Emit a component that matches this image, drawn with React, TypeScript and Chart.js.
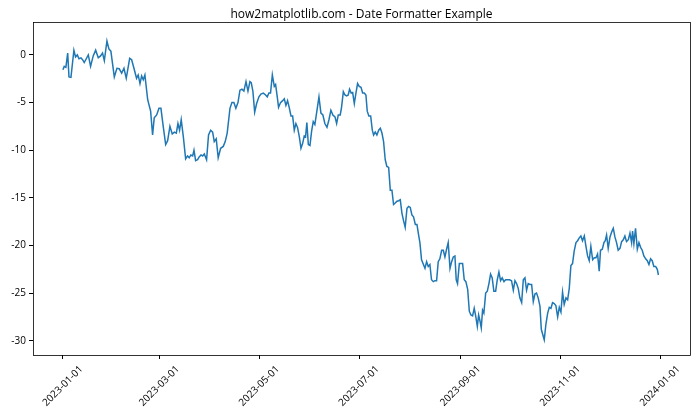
import React, { useEffect, useRef } from "react";
import Chart from "chart.js/auto";

const TITLE = "how2matplotlib.com - Date Formatter Example";

// day index from 2023-01-01
const tickDays = [0, 59, 120, 181, 243, 304, 365];
const tickLabels = ["2023-01-01", "2023-03-01", "2023-05-01", "2023-07-01", "2023-09-01", "2023-11-01", "2024-01-01"];
const yTicks = [-30, -25, -20, -15, -10, -5, 0];

const days = [
  0, 0.8, 1.8, 2.9, 3.7, 4.9, 6.7, 7.7, 8.8, 9.8, 11.0, 12.0, 13.0, 14.1, 15.5, 16.9, 18.5, 20.0, 21.6, 23.0,
  24.2, 25.3, 26.9, 28.1, 29.3, 31.4, 33.0, 34.4, 35.9, 37.3, 38.7, 40.8, 42.0, 43.4, 45.0, 46.0, 47.1, 48.1, 49.1, 50.1,
  51.8, 53.6, 54.8, 55.8, 57.3, 58.7, 59.9, 61.3, 62.8, 64.0, 65.4, 66.8, 68.1, 69.3, 70.3, 71.3, 72.3, 73.6, 75.0, 76.2,
  77.2, 78.2, 79.3, 80.1, 81.1, 82.3, 83.3, 84.4, 85.4, 86.4, 87.8, 89.0, 90.3, 91.5, 92.5, 93.7, 94.9, 96.4, 98.0, 99.2,
  100.4, 102.1, 103.3, 104.5, 105.7, 107.0, 108.2, 109.4, 110.6, 111.9, 113.1, 114.3, 115.1, 116.1, 117.2, 118.4, 119.8, 121.0, 122.5, 123.9,
  124.9, 125.9, 126.9, 128.0, 129.2, 130.0, 131.0, 131.8, 133.0, 134.3, 135.3, 136.3, 137.3, 138.3, 139.4, 140.4, 141.4, 142.4, 143.4, 144.5,
  145.5, 146.5, 147.5, 148.3, 149.1, 150.0, 151.0, 152.0, 153.0, 154.0, 155.3, 156.5, 157.7, 158.9, 160.1, 161.4, 162.6, 163.8, 165.0, 166.3,
  167.3, 168.3, 169.5, 170.3, 171.4, 172.4, 173.4, 174.4, 175.2, 176.2, 177.1, 178.1, 179.1, 180.1, 181.1, 182.2, 183.2, 184.2, 185.2, 186.0,
  187.0, 188.1, 189.1, 189.9, 190.9, 191.9, 193.0, 194.0, 195.0, 196.0, 197.0, 198.0, 199.1, 200.1, 201.1, 202.1, 203.1, 204.2, 205.2, 206.2,
  207.2, 208.2, 209.2, 210.3, 211.3, 212.3, 213.3, 214.3, 215.4, 216.4, 217.4, 218.2, 219.2, 221.3, 222.3, 223.3, 224.3, 225.3, 226.4, 227.4,
  228.4, 229.4, 230.4, 231.5, 232.5, 233.5, 234.5, 235.5, 236.6, 237.6, 238.6, 239.6, 240.4, 241.2, 242.3, 243.3, 244.3, 245.3, 246.3, 247.4,
  248.4, 249.4, 250.4, 251.4, 252.4, 253.3, 254.1, 254.9, 255.7, 256.5, 257.3, 258.4, 259.4, 260.4, 261.4, 262.4, 263.4, 264.5, 265.5, 266.5,
  267.5, 268.5, 269.6, 270.6, 271.8, 273.0, 274.2, 275.3, 276.3, 277.3, 278.3, 279.3, 280.4, 281.4, 282.4, 283.4, 284.4, 285.5, 286.5, 287.5,
  288.5, 289.5, 290.5, 291.6, 292.4, 293.2, 294.2, 295.2, 296.3, 297.3, 298.3, 299.3, 300.3, 301.3, 302.4, 303.4, 304.4, 305.4, 306.4, 307.5,
  308.5, 309.5, 310.5, 311.5, 312.5, 313.6, 314.6, 315.6, 316.6, 317.6, 318.7, 319.7, 320.7, 321.7, 322.7, 323.8, 324.8, 325.8, 326.8, 327.8,
  328.6, 329.7, 330.7, 331.5, 332.3, 333.3, 334.4, 335.4, 336.4, 337.4, 338.4, 339.4, 340.5, 341.5, 342.5, 343.5, 344.5, 345.6, 346.6, 347.6,
  348.2, 349.0, 350.0, 351.1, 352.1, 353.1, 354.1, 355.1, 356.2, 357.2, 358.2, 359.2, 360.2, 361.2, 362.3, 363.3, 364.0,
];

const values = [
  -1.55, -1.2, -1.3, 0.2, -2.3, -2.35, 0.5, -0.2, 0.0, -0.4, -0.3, -0.5, -0.8, -0.45, 0.0, -1.2, -0.1, 0.5, -0.3, -0.1,
  0.2, -0.6, 1.47, 0.63, 0.4, -2.3, -1.4, -1.45, -1.9, -1.4, -2.45, -0.35, -0.5, -1.4, -2.45, -2.1, -3.0, -2.2, -2.6, -2.1,
  -4.7, -5.9, -8.4, -6.6, -6.3, -5.6, -5.6, -7.5, -9.4, -9.0, -7.5, -8.3, -8.1, -8.2, -7.2, -7.9, -6.8, -8.6, -10.9, -10.6,
  -10.8, -10.5, -10.6, -10.0, -11.1, -11.0, -10.7, -10.5, -10.6, -10.4, -11.0, -8.4, -7.9, -8.1, -9.1, -8.8, -10.8, -9.8, -9.6, -9.1,
  -8.2, -5.6, -5.0, -5.0, -5.6, -5.0, -3.7, -3.6, -3.8, -2.8, -3.8, -2.8, -2.9, -3.8, -6.0, -5.1, -4.4, -4.1, -4.0, -4.2,
  -4.4, -4.0, -4.0, -2.1, -3.3, -3.1, -4.4, -5.5, -5.0, -4.8, -4.6, -5.3, -4.8, -5.5, -6.4, -6.4, -7.9, -7.2, -7.6, -8.6,
  -9.8, -9.3, -8.5, -8.6, -7.1, -9.4, -9.5, -8.0, -7.0, -7.3, -5.8, -4.4, -6.1, -6.3, -7.2, -7.6, -6.8, -5.8, -6.3, -6.5,
  -7.2, -6.3, -6.3, -5.5, -3.85, -4.2, -4.3, -4.2, -3.6, -4.0, -3.95, -5.1, -4.0, -3.0, -3.3, -3.4, -4.0, -4.0, -4.2, -5.9,
  -6.4, -6.4, -7.9, -8.4, -8.1, -8.4, -7.9, -7.7, -8.2, -9.1, -11.0, -11.7, -11.8, -14.2, -14.2, -15.7, -15.55, -15.35, -15.3, -15.2,
  -16.6, -17.4, -18.1, -16.1, -15.9, -16.0, -16.8, -17.0, -17.8, -17.8, -18.9, -19.7, -21.5, -22.4, -21.7, -22.2, -22.0, -23.6, -23.8, -23.7,
  -23.7, -21.7, -21.4, -20.5, -20.5, -21.2, -20.4, -19.7, -22.4, -21.7, -21.2, -21.1, -23.6, -24.0, -21.9, -21.9, -21.9, -23.6, -23.8, -24.6,
  -26.9, -27.3, -27.4, -26.6, -27.5, -28.5, -27.3, -27.9, -28.65, -26.8, -27.1, -25.0, -24.8, -24.0, -23.0, -23.4, -24.8, -24.8, -23.6, -22.8,
  -23.7, -23.4, -23.8, -23.6, -23.6, -23.6, -23.7, -24.7, -23.7, -24.0, -24.5, -25.5, -26.0, -23.6, -23.4, -24.7, -24.0, -24.1, -24.1, -25.9,
  -25.1, -25.0, -25.5, -26.4, -28.8, -29.3, -29.9, -28.3, -27.1, -26.5, -26.6, -26.0, -26.1, -26.3, -27.5, -26.5, -27.0, -24.9, -26.2, -25.5,
  -25.7, -24.5, -22.1, -21.9, -20.6, -19.7, -19.5, -19.2, -19.0, -19.5, -19.0, -20.1, -21.1, -21.6, -20.1, -21.5, -21.3, -21.3, -20.9, -22.7,
  -20.5, -20.4, -19.7, -19.5, -18.9, -20.3, -19.1, -18.6, -18.2, -19.1, -19.7, -20.5, -20.3, -19.6, -19.4, -19.0, -19.6, -19.4, -18.7, -19.7,
  -18.5, -19.8, -18.2, -20.4, -19.7, -20.2, -20.5, -21.1, -21.4, -21.6, -22.0, -21.4, -21.6, -22.2, -22.2, -22.5, -23.1,
];

const FONT = "'Open Sans', 'DejaVu Sans', sans-serif";

const framePlugin = {
  id: "frame",
  afterDraw(chart: any) {
    const { ctx, chartArea } = chart;
    ctx.save();
    ctx.strokeStyle = "#000";
    ctx.lineWidth = 0.8;
    ctx.strokeRect(
      Math.round(chartArea.left) + 0.5,
      Math.round(chartArea.top) + 0.5,
      Math.round(chartArea.right - chartArea.left),
      Math.round(chartArea.bottom - chartArea.top)
    );
    ctx.fillStyle = "#000";
    ctx.font = `12px ${FONT}`;
    ctx.textAlign = "center";
    ctx.textBaseline = "middle";
    ctx.fillText(TITLE, (chartArea.left + chartArea.right) / 2, 15);

    // rotated, centre-aligned date labels (matplotlib style)
    const xs = chart.scales.x;
    ctx.font = `10px ${FONT}`;
    tickDays.forEach((d, i) => {
      const px = xs.getPixelForValue(d);
      ctx.save();
      ctx.translate(px, chartArea.bottom + 31);
      ctx.rotate(-Math.PI / 4);
      ctx.textAlign = "center";
      ctx.textBaseline = "middle";
      ctx.fillText(tickLabels[i], 0, 0);
      ctx.restore();
    });
    ctx.restore();
  },
};

export default function App() {
  const ref = useRef<HTMLCanvasElement | null>(null);
  useEffect(() => {
    document.body.style.margin = "0";
    if (!ref.current) return;
    const data = days.map((d, i) => ({ x: d, y: values[i] }));
    const chart = new Chart(ref.current, {
      type: "line",
      data: {
        datasets: [
          {
            data,
            borderColor: "#1f77b4",
            borderWidth: 1.5,
            pointRadius: 0,
            tension: 0,
            fill: false,
          },
        ],
      },
      options: {
        animation: false,
        responsive: false,
        maintainAspectRatio: false,
        parsing: false as any,
        layout: { padding: { top: 22, right: 10, left: 0, bottom: 0 } },
        plugins: { legend: { display: false }, title: { display: false }, tooltip: { enabled: false } },
        scales: {
          x: {
            type: "linear",
            min: -18.3,
            max: 383.3,
            afterBuildTicks: (scale: any) => {
              scale.ticks = tickDays.map((v) => ({ value: v }));
            },
            afterFit: (scale: any) => {
              scale.height = 65;
            },
            grid: { display: true, drawOnChartArea: false, drawTicks: true, tickLength: 4, color: "#000" },
            border: { display: false },
            ticks: {
              display: false,
              autoSkip: false,
            },
          },
          y: {
            type: "linear",
            min: -31.5,
            max: 3.46,
            afterBuildTicks: (scale: any) => {
              scale.ticks = yTicks.map((v) => ({ value: v }));
            },
            afterFit: (scale: any) => {
              scale.width = 33;
            },
            grid: { display: true, drawOnChartArea: false, drawTicks: true, tickLength: 4, color: "#000" },
            border: { display: false },
            ticks: {
              padding: 3,
              color: "#000",
              font: { size: 10, family: FONT },
              callback: (v: any) => String(v),
            },
          },
        },
      },
      plugins: [framePlugin],
    });
    return () => chart.destroy();
  }, []);
  return <canvas ref={ref} width={700} height={420} style={{ display: "block" }} />;
}
